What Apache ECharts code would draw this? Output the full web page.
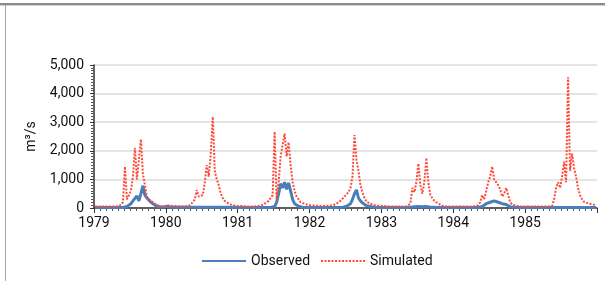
<!DOCTYPE html>
<html>
<head>
<meta charset="utf-8">
<script src="https://cdn.jsdelivr.net/npm/echarts@6/dist/echarts.min.js"></script>
<style>
  html, body { margin: 0; padding: 0; background: #fff; }
  #chart { width: 605px; height: 281px; }
</style>
</head>
<body>
<div id="chart"></div>
<script>
// years on the x axis, one label each
var years = [1979, 1980, 1981, 1982, 1983, 1984, 1985];
// 36 values per year (about every 10 days), m3/s
var sim1979 = [50, 50, 50, 50, 50, 50, 50, 50, 50, 50, 50, 60, 60, 80, 200, 1450, 300, 250, 600, 1100, 2100, 1000, 1700, 2400, 1200, 800, 400, 300, 250, 200, 150, 100, 80, 60, 50, 50];
var sim1980 = [100, 90, 80, 70, 60, 60, 60, 60, 60, 60, 70, 80, 100, 200, 300, 630, 400, 350, 450, 900, 1500, 1100, 1900, 3190, 1300, 1000, 800, 500, 350, 250, 200, 150, 120, 100, 80, 70];
var sim1981 = [80, 70, 60, 60, 50, 50, 50, 50, 60, 60, 70, 80, 100, 150, 200, 250, 350, 450, 2670, 300, 900, 1800, 2200, 2600, 1800, 2300, 1500, 900, 600, 400, 300, 200, 180, 150, 120, 100];
var sim1982 = [100, 90, 80, 80, 70, 70, 70, 70, 70, 80, 80, 90, 100, 150, 200, 250, 300, 400, 450, 550, 700, 1100, 2550, 1700, 1300, 800, 550, 350, 220, 180, 150, 120, 100, 90, 80, 70];
var sim1983 = [70, 60, 60, 50, 50, 50, 50, 50, 50, 50, 50, 60, 60, 80, 150, 700, 550, 900, 1550, 800, 500, 900, 1750, 900, 450, 350, 250, 200, 150, 100, 80, 60, 50, 50, 50, 50];
var sim1984 = [50, 50, 50, 50, 50, 50, 50, 50, 50, 50, 60, 70, 100, 200, 450, 300, 600, 900, 1100, 1450, 1000, 900, 800, 650, 400, 500, 700, 450, 200, 120, 100, 80, 60, 50, 50, 50];
var sim1985 = [50, 50, 50, 50, 50, 50, 50, 50, 50, 50, 50, 50, 60, 80, 300, 700, 900, 700, 1100, 1620, 900, 4570, 1300, 1900, 1400, 1100, 700, 450, 300, 220, 180, 160, 150, 130, 110, 100];

var obs1979 = [20, 20, 20, 20, 20, 20, 20, 20, 20, 20, 20, 20, 20, 20, 20, 20, 50, 100, 150, 250, 300, 420, 250, 500, 780, 450, 350, 300, 200, 150, 100, 60, 40, 30, 30, 30];
var obs1980 = [60, 40, 30, 30, 30, 30, 30, 30, 30, 30, 30, 30, 30, 30, 30, 30, 30, 30, 30, 30, 30, 30, 30, 30, 30, 30, 30, 30, 30, 30, 30, 30, 30, 30, 30, 30];
var obs1981 = [20, 20, 20, 20, 20, 20, 20, 20, 20, 20, 20, 20, 20, 20, 20, 20, 20, 20, 50, 200, 500, 850, 700, 900, 650, 880, 600, 300, 150, 100, 60, 40, 30, 30, 20, 20];
var obs1982 = [20, 20, 20, 20, 20, 20, 20, 20, 20, 20, 20, 20, 20, 20, 20, 20, 20, 40, 60, 100, 150, 300, 500, 630, 350, 250, 180, 120, 80, 60, 50, 40, 30, 30, 20, 20];
var obs1983 = [20, 20, 20, 20, 20, 20, 20, 20, 20, 20, 20, 20, 20, 20, 30, 40, 40, 40, 50, 40, 40, 40, 50, 40, 30, 30, 30, 20, 20, 20, 20, 20, 20, 20, 20, 20];
var obs1984 = [20, 20, 20, 20, 20, 20, 20, 20, 20, 20, 20, 20, 20, 20, 50, 100, 150, 180, 200, 220, 250, 230, 200, 220, 150, 180, 120, 60, 40, 30, 30, 20, 20, 20, 20, 20];
var obs1985 = [20, 20, 20, 20, 20, 20, 20, 20, 20, 20, 20, 20, 20, 20, 20, 20, 20, 20, 20, 20, 20, 20, 20, 20, 20, 20, 20, 20, 20, 20, 20, 20, 20, 20, 20, 20];

var simByYear = [sim1979, sim1980, sim1981, sim1982, sim1983, sim1984, sim1985];
var obsByYear = [obs1979, obs1980, obs1981, obs1982, obs1983, obs1984, obs1985];

// turn per-year lists into [year fraction, value] pairs
function toPairs(lists) {
  var out = [];
  lists.forEach(function (vals, i) {
    vals.forEach(function (v, k) {
      out.push([years[i] + (k + 0.5) / vals.length, v]);
    });
  });
  return out;
}

var myChart = echarts.init(document.getElementById('chart'));
var font = 'Roboto, "Noto Sans", sans-serif';

var option = {
  animation: false,
  backgroundColor: '#fff',
  textStyle: { fontFamily: font },
  graphic: [
    { type: 'rect', shape: { x: 0, y: 3, width: 605, height: 2 }, style: { fill: '#8c8c8c' } },
    { type: 'rect', shape: { x: 0, y: 5, width: 605, height: 1 }, style: { fill: '#d0d0d0' } },
    { type: 'rect', shape: { x: 5, y: 5, width: 1, height: 276 }, style: { fill: '#a8a8a8' } }
  ],
  grid: { left: 94, right: 8, top: 65, bottom: 73 },
  legend: {
    left: 196,
    top: 249,
    itemWidth: 44,
    itemHeight: 14,
    itemGap: 10,
    itemStyle: { opacity: 0 },
    textStyle: { fontFamily: font, fontSize: 14, color: '#111' },
    data: ['Observed', 'Simulated']
  },
  xAxis: {
    type: 'value',
    min: 1979,
    max: 1986,
    interval: 1,
    axisLine: { lineStyle: { color: '#333', width: 1.5 } },
    axisTick: { show: true, length: 5, lineStyle: { color: '#333' } },
    minorTick: { show: true, splitNumber: 12, length: 3, lineStyle: { color: '#555' } },
    splitLine: { show: false },
    axisLabel: {
      fontFamily: font,
      fontSize: 14,
      color: '#111',
      margin: 8,
      formatter: function (v) { return v === 1986 ? '' : String(v); }
    }
  },
  yAxis: {
    type: 'value',
    min: 0,
    max: 5000,
    interval: 1000,
    name: 'm\u00b3/s',
    nameLocation: 'middle',
    nameGap: 56,
    nameTextStyle: { fontFamily: font, fontSize: 14, color: '#111' },
    axisLine: { show: true, lineStyle: { color: '#333', width: 1.5 } },
    axisTick: { show: true, length: 4, lineStyle: { color: '#333' } },
    minorTick: { show: true, splitNumber: 10, length: 3, lineStyle: { color: '#555' } },
    splitLine: { show: true, lineStyle: { color: '#dcdcdc', width: 1.5 } },
    axisLabel: {
      fontFamily: font,
      fontSize: 14,
      color: '#111',
      margin: 10,
      formatter: function (v) { return v.toLocaleString('en-US'); }
    }
  },
  series: [
    {
      name: 'Observed',
      type: 'line',
      symbol: 'none',
      color: '#4a7ebb',
      lineStyle: { color: '#4a7ebb', width: 3 },
      data: toPairs(obsByYear)
    },
    {
      name: 'Simulated',
      type: 'line',
      symbol: 'none',
      color: '#ff4a3a',
      lineStyle: { color: '#ff4a3a', width: 2, type: [2, 1.5] },
      data: toPairs(simByYear)
    }
  ]
};

myChart.setOption(option);
</script>
</body>
</html>
